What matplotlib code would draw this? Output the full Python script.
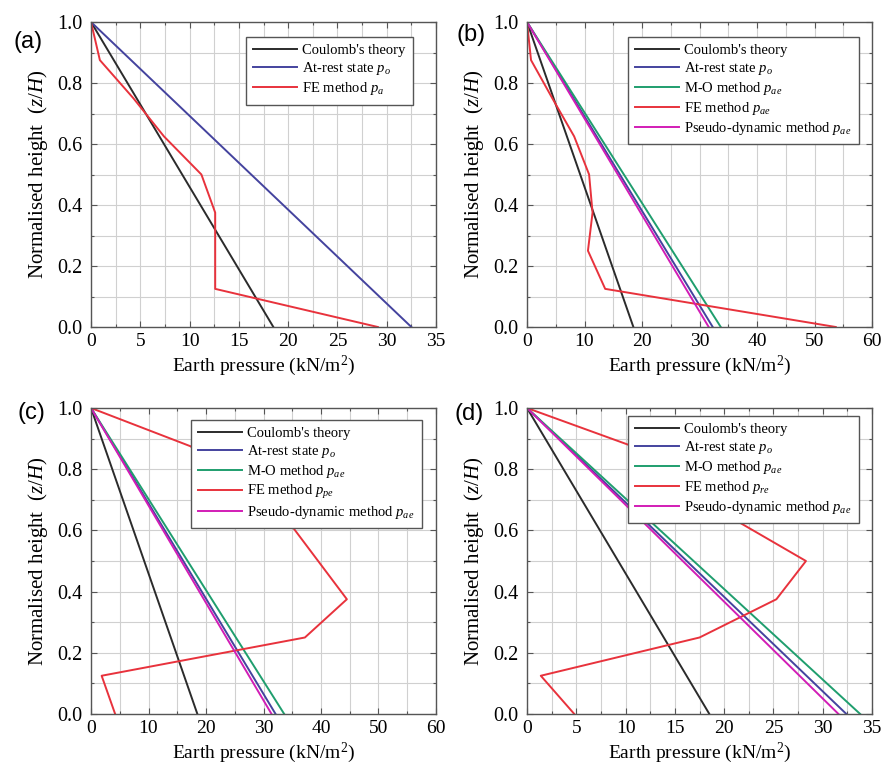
import numpy as np
import matplotlib
matplotlib.use("Agg")
import matplotlib.pyplot as plt
from matplotlib.ticker import MultipleLocator, FormatStrFormatter

plt.rcParams["font.family"] = ["Liberation Serif", "DejaVu Serif"]
plt.rcParams["mathtext.fontset"] = "custom"
plt.rcParams["mathtext.rm"] = "Liberation Serif"
plt.rcParams["mathtext.it"] = "Liberation Serif:italic"

# ── data (normalised height z/H vs earth pressure, kN/m2) ─────────────
z_line = [1.0, 0.0]

# (a) static active
a_coulomb = [0.0, 18.5]
a_rest = [0.0, 32.5]
a_fe_z = [1.0, 0.875, 0.75, 0.625, 0.5, 0.375, 0.25, 0.125, 0.0]
a_fe_p = [0.0, 0.9, 4.3, 7.4, 11.2, 12.6, 12.6, 12.6, 29.1]

# (b) seismic active
b_coulomb = [0.0, 18.5]
b_rest = [0.0, 32.3]
b_mo = [0.0, 33.7]
b_pd = [0.0, 31.6]
b_fe_z = [1.0, 0.875, 0.75, 0.625, 0.5, 0.375, 0.25, 0.125, 0.0]
b_fe_p = [0.0, 0.7, 4.4, 8.2, 10.8, 11.4, 10.6, 13.6, 53.7]

# (c)
c_coulomb = [0.0, 18.5]
c_rest = [0.0, 32.1]
c_mo = [0.0, 33.6]
c_pd = [0.0, 31.4]
c_fe_z = [1.0, 0.875, 0.75, 0.625, 0.5, 0.375, 0.25, 0.125, 0.0]
c_fe_p = [0.0, 17.3, 26.0, 34.5, 39.5, 44.5, 37.2, 1.85, 4.2]

# (d)
d_coulomb = [0.0, 18.5]
d_rest = [0.0, 32.4]
d_mo = [0.0, 33.8]
d_pd = [0.0, 31.6]
d_fe_z = [1.0, 0.875, 0.75, 0.625, 0.5, 0.375, 0.25, 0.125, 0.0]
d_fe_p = [0.0, 10.7, 16.0, 21.6, 28.3, 25.3, 17.5, 1.4, 4.8]

# colours
C_COUL = "#2b2b2b"
C_REST = "#44439e"
C_MO = "#1f9e6e"
C_FE = "#e8323c"
C_PD = "#d21db6"

fig = plt.figure(figsize=(8.82, 7.71), dpi=100)
W, H = 882, 771


def make_axes(left, top, width, height):
    return fig.add_axes([left / W, 1 - (top + height) / H, width / W, height / H])


def style(ax, xmax, xmajor):
    ax.set_xlim(0, xmax)
    ax.set_ylim(0, 1.0)
    ax.xaxis.set_major_locator(MultipleLocator(xmajor))
    ax.xaxis.set_minor_locator(MultipleLocator(xmajor / 2))
    ax.yaxis.set_major_locator(MultipleLocator(0.2))
    ax.yaxis.set_minor_locator(MultipleLocator(0.1))
    ax.yaxis.set_major_formatter(FormatStrFormatter("%.1f"))
    ax.grid(True, which="both", color="#d0d0d0", lw=0.8)
    ax.set_axisbelow(True)
    ax.tick_params(which="both", direction="in", top=True, right=True,
                   color="#555555")
    ax.tick_params(which="major", length=4, width=0.8)
    ax.tick_params(which="minor", length=2.5, width=0.8)
    ax.tick_params(axis="y", pad=6, labelsize=14.5)
    ax.tick_params(axis="x", pad=4, labelsize=14)
    for s in ax.spines.values():
        s.set_color("#555555")
        s.set_linewidth(1.0)
    ax.set_xlabel("Earth pressure (kN/m$^2$)", fontsize=14, labelpad=3)
    ax.set_ylabel("Normalised height  ($z$/$H$)", fontsize=15, labelpad=5)


def legend(ax, x, y):
    ax.legend(loc="upper right", bbox_to_anchor=(x, y), fontsize=10.5,
              frameon=True, fancybox=False, edgecolor="#555555",
              framealpha=1.0, handlelength=3.0, handletextpad=0.35,
              labelspacing=0.2, borderaxespad=0, borderpad=0.5)


lw = 1.4

# (a)
ax = make_axes(91, 22, 345, 305)
ax.plot(a_coulomb, z_line, color=C_COUL, lw=lw, label="Coulomb's theory")
ax.plot(a_rest, z_line, color=C_REST, lw=lw, label="At-rest state $p_o$")
ax.plot(a_fe_p, a_fe_z, color=C_FE, lw=lw, label="FE method $p_a$")
style(ax, 35, 5)
legend(ax, 0.933, 0.951)

# (b)
ax = make_axes(527, 22, 345, 305)
ax.plot(b_coulomb, z_line, color=C_COUL, lw=lw, label="Coulomb's theory")
ax.plot(b_rest, z_line, color=C_REST, lw=lw, label="At-rest state $p_o$")
ax.plot(b_mo, z_line, color=C_MO, lw=lw, label="M-O method $p_{ae}$")
ax.plot(b_fe_p, b_fe_z, color=C_FE, lw=lw, label="FE method $p_{ae}$")
ax.plot(b_pd, z_line, color=C_PD, lw=lw, label="Pseudo-dynamic method $p_{ae}$")
style(ax, 60, 10)
legend(ax, 0.962, 0.951)

# (c)
ax = make_axes(91, 408, 345, 306)
ax.plot(c_coulomb, z_line, color=C_COUL, lw=lw, label="Coulomb's theory")
ax.plot(c_rest, z_line, color=C_REST, lw=lw, label="At-rest state $p_o$")
ax.plot(c_mo, z_line, color=C_MO, lw=lw, label="M-O method $p_{ae}$")
ax.plot(c_fe_p, c_fe_z, color=C_FE, lw=lw, label="FE method $p_{pe}$")
ax.plot(c_pd, z_line, color=C_PD, lw=lw, label="Pseudo-dynamic method $p_{ae}$")
style(ax, 60, 10)
legend(ax, 0.959, 0.961)

# (d)
ax = make_axes(527, 408, 345, 306)
ax.plot(d_coulomb, z_line, color=C_COUL, lw=lw, label="Coulomb's theory")
ax.plot(d_rest, z_line, color=C_REST, lw=lw, label="At-rest state $p_o$")
ax.plot(d_mo, z_line, color=C_MO, lw=lw, label="M-O method $p_{ae}$")
ax.plot(d_fe_p, d_fe_z, color=C_FE, lw=lw, label="FE method $p_{re}$")
ax.plot(d_pd, z_line, color=C_PD, lw=lw, label="Pseudo-dynamic method $p_{ae}$")
style(ax, 35, 5)
legend(ax, 0.962, 0.974)

# panel letters
for txt, x, y in [("(a)", 28, 42), ("(b)", 471, 35), ("(c)", 31, 413), ("(d)", 469, 414)]:
    fig.text(x / W, 1 - y / H, txt, fontsize=17, family="Liberation Sans",
             ha="center", va="center")

fig.savefig("out.png", dpi=100)
